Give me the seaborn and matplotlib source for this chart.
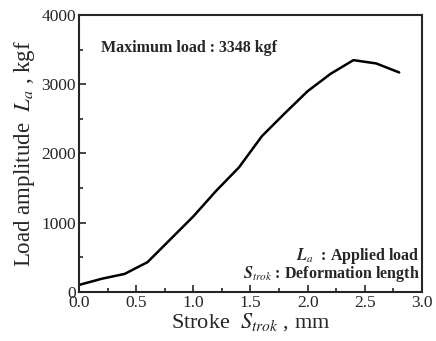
import matplotlib
matplotlib.use("Agg")
import matplotlib.pyplot as plt
import seaborn as sns
import pandas as pd
from matplotlib.ticker import MultipleLocator, FormatStrFormatter

stroke = [0.0, 0.2, 0.4, 0.6, 0.8, 1.0, 1.2, 1.4, 1.6, 1.8, 2.0, 2.2, 2.4, 2.6, 2.8]
load = [100, 190, 260, 430, 760, 1090, 1460, 1800, 2250, 2580, 2900, 3150, 3348, 3300, 3170]

df = pd.DataFrame({"stroke": stroke, "load": load})

sns.set_style("ticks")
plt.rcParams['font.family'] = ['Liberation Serif', 'DejaVu Serif']
plt.rcParams['mathtext.fontset'] = 'stix'

fig = plt.figure(figsize=(4.36, 3.41), dpi=100)
ax = fig.add_axes([0.181, 0.144, 0.787, 0.812])
sns.lineplot(data=df, x="stroke", y="load", color="black", linewidth=1.8, ax=ax)

ax.set_xlim(0, 3.0)
ax.set_ylim(0, 4000)
ax.xaxis.set_major_locator(MultipleLocator(0.5))
ax.xaxis.set_minor_locator(MultipleLocator(0.25))
ax.yaxis.set_major_locator(MultipleLocator(1000))
ax.yaxis.set_minor_locator(MultipleLocator(500))
ax.xaxis.set_major_formatter(FormatStrFormatter('%.1f'))
ax.tick_params(which='both', direction='in', top=False, right=False, labelsize=12.5, width=1.2)
ax.tick_params(which='major', length=5, pad=2)
ax.tick_params(which='minor', length=3)
for s in ax.spines.values():
    s.set_linewidth(1.5)

ax.set_xlabel(r"Stroke  $S_{trok}$ , mm", fontsize=16, labelpad=0)
ax.set_ylabel(r"Load amplitude  $L_a$ , kgf", fontsize=16.5, labelpad=3)

ax.text(0.19, 3530, "Maximum load : 3348 kgf", fontsize=11.5, fontweight='bold', va='center')
ax.text(2.98, 525, r"$\mathbfit{L}_{a}$  : Applied load", fontsize=11.5, fontweight='bold', ha='right', va='center')
ax.text(2.98, 260, r"$\mathbfit{S}_{trok}$ : Deformation length", fontsize=11.5, fontweight='bold', ha='right', va='center')

fig.savefig("out.png", dpi=100)
